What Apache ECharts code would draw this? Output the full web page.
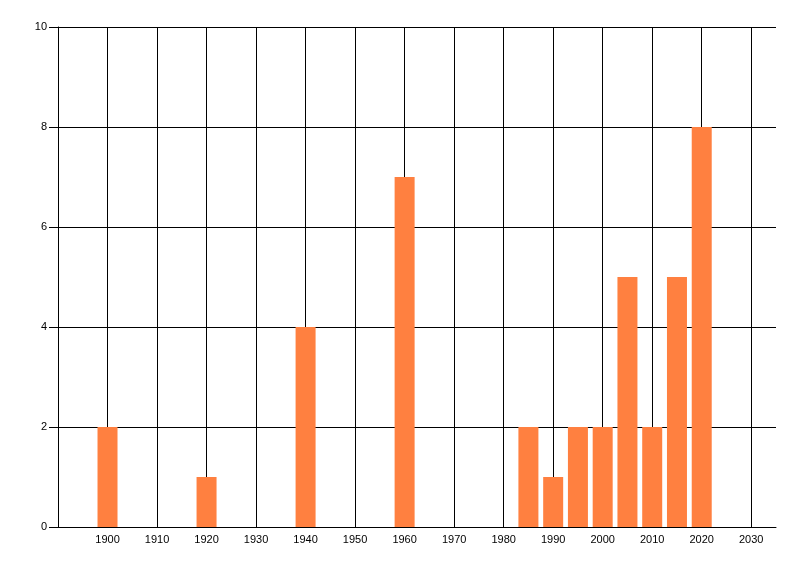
<!DOCTYPE html>
<html><head><meta charset="utf-8">
<script src="https://cdn.jsdelivr.net/npm/echarts@6/dist/echarts.min.js"></script>
<style>html,body{margin:0;padding:0;background:#fff}#c{width:800px;height:576px}</style>
</head><body><div id="c"></div>
<script>
const years = [1900, 1920, 1940, 1960, 1985, 1990, 1995, 2000, 2005, 2010, 2015, 2020];
const counts = [2, 1, 4, 7, 2, 1, 2, 2, 5, 2, 5, 8];
const xMin = 1890, xMax = 2035, xStep = 10;
const yMin = 0, yMax = 10, yStep = 2;

const chart = echarts.init(document.getElementById('c'));
const font = 'Liberation Sans, Arial, sans-serif';
chart.setOption({
  animation: false,
  grid: {left: 58, top: 27, right: 24, bottom: 49, containLabel: false},
  xAxis: {
    type: 'value', min: xMin, max: xMax, interval: xStep,
    axisLine: {show: true, onZero: false, lineStyle: {color: '#000', width: 1}},
    axisTick: {show: false},
    axisLabel: {
      color: '#000', fontFamily: font, fontSize: 11, margin: 7,
      showMinLabel: false, showMaxLabel: false,
      formatter: v => (v === xMin || v === xMax) ? '' : String(v)
    },
    splitLine: {show: true, showMinLine: false, showMaxLine: false, lineStyle: {color: '#000', width: 1}}
  },
  yAxis: {
    type: 'value', min: yMin, max: yMax, interval: yStep,
    axisLine: {show: true, lineStyle: {color: '#000', width: 1}},
    axisTick: {show: true, length: 9, lineStyle: {color: '#000'}},
    axisLabel: {color: '#000', fontFamily: font, fontSize: 11, margin: 11},
    splitLine: {show: true, lineStyle: {color: '#000', width: 1}}
  },
  series: [{
    type: 'bar',
    data: years.map((y, i) => [y, counts[i]]),
    barWidth: 20,
    itemStyle: {color: '#FF8040'}
  }]
});
</script></body></html>
